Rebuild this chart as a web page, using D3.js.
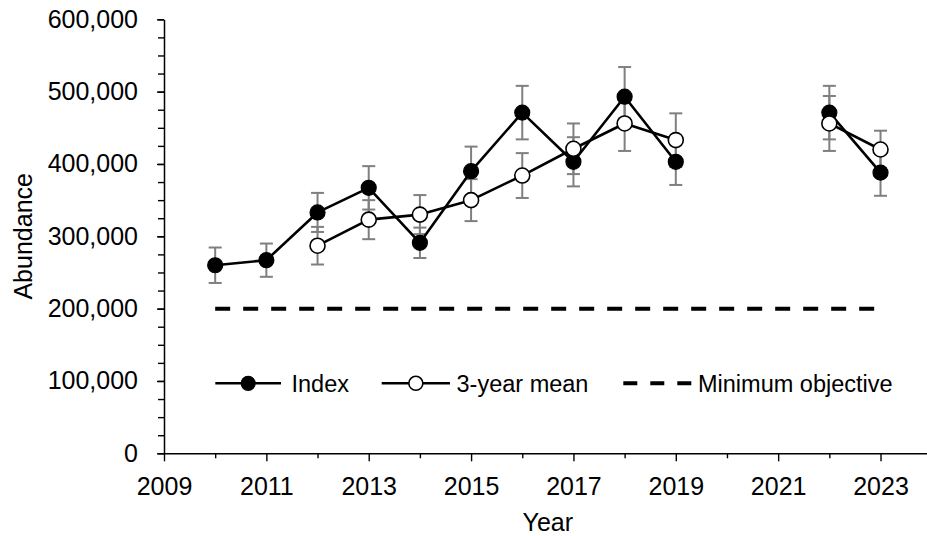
<!DOCTYPE html>
<html>
<head>
<meta charset="utf-8">
<script src="https://cdn.jsdelivr.net/npm/d3@7"></script>
<style>
  html, body { margin: 0; padding: 0; background: #fff; }
  svg { display: block; font-family: "Liberation Sans", Arial, sans-serif; }
</style>
</head>
<body>
<svg id="chart" width="927" height="536"></svg>
<script>
// Annual index of abundance with standard-error bars
const indexYears = [2010, 2011, 2012, 2013, 2014, 2015, 2016, 2017, 2018, 2019, 2022, 2023];
const indexValues = [260000, 267000, 333000, 367000, 291000, 390000, 471000, 403000, 493000, 403000, 471000, 388000];
const indexErrors = [24500, 23000, 27000, 30000, 21000, 34000, 37000, 34000, 41000, 32000, 37000, 32000];

// Running 3-year mean
const meanYears = [2012, 2013, 2014, 2015, 2016, 2017, 2018, 2019, 2022, 2023];
const meanValues = [287000, 323000, 330000, 350000, 384000, 421000, 456000, 433000, 456000, 420000];
const meanErrors = [26000, 27000, 27000, 29000, 31000, 35000, 38000, 37000, 38000, 26000];

// Minimum objective line
const objectiveYears = [2010, 2023];
const objectiveValue = 200000;

// Axis ticks
const xTickLabels = [2009, 2011, 2013, 2015, 2017, 2019, 2021, 2023];
const xMinorTicks = [2010, 2012, 2014, 2016, 2018, 2020, 2022, 2024];
const yTickLabels = [0, 100000, 200000, 300000, 400000, 500000, 600000];

const legendLabels = ["Index", "3-year mean", "Minimum objective"];

const svg = d3.select("#chart");
const plotLeft = 164, plotRight = 931.7, plotTop = 19.3, plotBottom = 453.3;

const x = d3.scaleLinear().domain([2009, 2024]).range([plotLeft, plotRight]);
const y = d3.scaleLinear().domain([0, 600000]).range([plotBottom, plotTop]);

const axisFont = 25;
const fmt = d3.format(",");

// Y axis: minor ticks every 25,000, labelled majors every 100,000
const yMinor = d3.range(0, 600001, 25000);
svg.append("g")
  .attr("transform", `translate(${plotLeft},0)`)
  .call(d3.axisLeft(y).tickValues(yMinor).tickSize(6).tickFormat(""))
  .call(g => g.select(".domain").remove())
  .call(g => g.selectAll("line").attr("stroke", "#000").attr("stroke-width", 1.4));

const yAxis = svg.append("g")
  .attr("transform", `translate(${plotLeft},0)`)
  .call(d3.axisLeft(y).tickValues(yTickLabels).tickSize(7).tickPadding(19).tickFormat(fmt).tickSizeOuter(0));
yAxis.select(".domain").attr("stroke", "#000").attr("stroke-width", 1.5);
yAxis.selectAll("line").attr("stroke", "#000").attr("stroke-width", 1.4);
yAxis.selectAll("text").attr("font-size", axisFont).attr("fill", "#000")
  .attr("font-family", "Liberation Sans, Arial, sans-serif");

// X axis: labels on odd years, minor ticks on even years
svg.append("g")
  .attr("transform", `translate(0,${plotBottom})`)
  .call(d3.axisBottom(x).tickValues(xMinorTicks).tickSize(5).tickFormat(""))
  .call(g => g.select(".domain").remove())
  .call(g => g.selectAll("line").attr("stroke", "#000").attr("stroke-width", 1.4));

const xAxis = svg.append("g")
  .attr("transform", `translate(0,${plotBottom})`)
  .call(d3.axisBottom(x).tickValues(xTickLabels).tickSize(8).tickPadding(16).tickFormat(d3.format("d")).tickSizeOuter(0));
xAxis.select(".domain").attr("stroke", "#000").attr("stroke-width", 1.5);
xAxis.selectAll("line").attr("stroke", "#000").attr("stroke-width", 1.4);
xAxis.selectAll("text").attr("font-size", axisFont).attr("fill", "#000")
  .attr("font-family", "Liberation Sans, Arial, sans-serif");

// Axis titles
svg.append("text")
  .attr("x", (plotLeft + plotRight) / 2).attr("y", 531)
  .attr("text-anchor", "middle").attr("font-size", axisFont).attr("fill", "#000")
  .text("Year");
svg.append("text")
  .attr("transform", `translate(32,${(plotTop + plotBottom) / 2}) rotate(-90)`)
  .attr("text-anchor", "middle").attr("font-size", axisFont).attr("fill", "#000")
  .text("Abundance");

// Minimum objective (dashed)
svg.append("line")
  .attr("x1", x(objectiveYears[0])).attr("x2", x(objectiveYears[1]))
  .attr("y1", y(objectiveValue)).attr("y2", y(objectiveValue))
  .attr("stroke", "#000").attr("stroke-width", 4).attr("stroke-dasharray", "15,13");

// Build series records
function records(years, vals, errs) {
  return years.map((yr, i) => ({ year: yr, value: vals[i], err: errs[i] }));
}
const indexData = records(indexYears, indexValues, indexErrors);
const meanData = records(meanYears, meanValues, meanErrors);

// Error bars
const capHalf = 6.5;
function drawErrors(data) {
  const g = svg.append("g").attr("stroke", "#7f7f7f").attr("stroke-width", 2).attr("fill", "none");
  data.forEach(d => {
    const cx = x(d.year), y0 = y(d.value - d.err), y1 = y(d.value + d.err);
    g.append("line").attr("x1", cx).attr("x2", cx).attr("y1", y0).attr("y2", y1);
    g.append("line").attr("x1", cx - capHalf).attr("x2", cx + capHalf).attr("y1", y0).attr("y2", y0);
    g.append("line").attr("x1", cx - capHalf).attr("x2", cx + capHalf).attr("y1", y1).attr("y2", y1);
  });
}
drawErrors(indexData);
drawErrors(meanData);

// Lines break where survey years are missing
const line = d3.line().x(d => x(d.year)).y(d => y(d.value));
function segments(data) {
  const segs = [[]];
  data.forEach((d, i) => {
    if (i > 0 && d.year - data[i - 1].year > 1) segs.push([]);
    segs[segs.length - 1].push(d);
  });
  return segs;
}
function drawLine(data) {
  segments(data).forEach(seg => {
    svg.append("path").datum(seg).attr("d", line)
      .attr("fill", "none").attr("stroke", "#000").attr("stroke-width", 2.6)
      .attr("stroke-linejoin", "round");
  });
}
drawLine(indexData);
drawLine(meanData);

// Markers
const r = 7.5;
svg.append("g").selectAll("circle").data(indexData).join("circle")
  .attr("cx", d => x(d.year)).attr("cy", d => y(d.value)).attr("r", r)
  .attr("fill", "#000").attr("stroke", "#000").attr("stroke-width", 1.2);
svg.append("g").selectAll("circle").data(meanData).join("circle")
  .attr("cx", d => x(d.year)).attr("cy", d => y(d.value)).attr("r", r)
  .attr("fill", "#fff").attr("stroke", "#000").attr("stroke-width", 1.6);

// Legend
const legendY = 383.3;
const legendFont = 23.5;
const legend = svg.append("g");
function legendLineItem(x0, x1, filled, label, tx) {
  legend.append("line").attr("x1", x0).attr("x2", x1).attr("y1", legendY).attr("y2", legendY)
    .attr("stroke", "#000").attr("stroke-width", 2.6);
  legend.append("circle").attr("cx", (x0 + x1) / 2).attr("cy", legendY).attr("r", 7)
    .attr("fill", filled ? "#000" : "#fff").attr("stroke", "#000").attr("stroke-width", filled ? 1.2 : 1.6);
  legend.append("text").attr("x", tx).attr("y", legendY + 8.5)
    .attr("font-size", legendFont).attr("fill", "#000").text(label);
}
legendLineItem(215.3, 281, true, legendLabels[0], 291.5);
legendLineItem(381.7, 450, false, legendLabels[1], 456.5);
legend.append("line").attr("x1", 623.3).attr("x2", 692).attr("y1", legendY).attr("y2", legendY)
  .attr("stroke", "#000").attr("stroke-width", 4).attr("stroke-dasharray", "14,13");
legend.append("text").attr("x", 698).attr("y", legendY + 8.5)
  .attr("font-size", legendFont).attr("fill", "#000").text(legendLabels[2]);
</script>
</body>
</html>
